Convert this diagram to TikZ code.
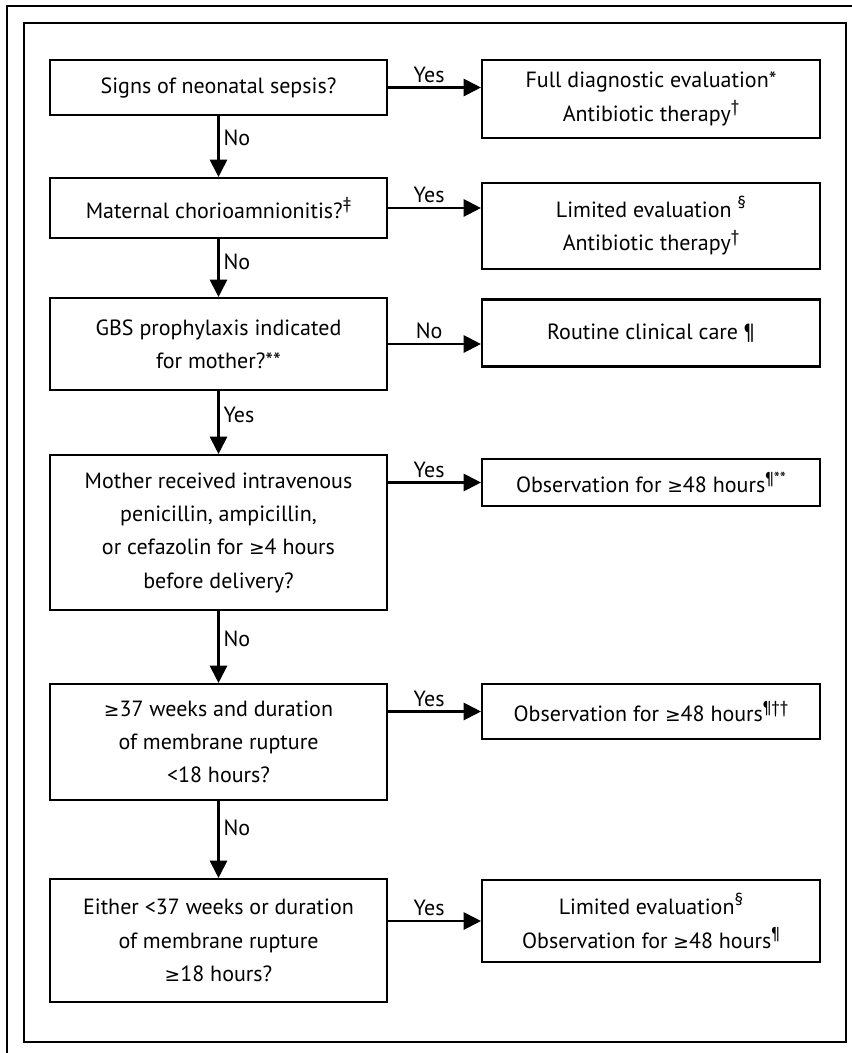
\documentclass[tikz,border=0pt]{standalone}
\usepackage{fontspec}
\setmainfont{PT Sans}
\newfontfamily\symfont{DejaVu Sans}
\usetikzlibrary{arrows.meta}

\newcommand{\atleast}{{\symfont\fontsize{14}{14}\selectfont ≥}}
\newcommand{\supmark}[1]{\raisebox{0.4em}{\fontsize{13}{13}\selectfont #1}}

\begin{document}
\begin{tikzpicture}[x=0.75pt, y=-0.75pt, >={Triangle[length=13pt,width=13pt]},
		qbox/.style={draw, line width=1.6pt, align=center, inner sep=0pt, minimum width=252.75pt},
		abox/.style={draw, line width=1.6pt, align=center, inner sep=0pt, minimum width=253.5pt},
		flow/.style={->, line width=1.6pt},
		lbl/.style={inner sep=3pt, font=\fontsize{16.5}{20}\selectfont}]
		\fontsize{16.5}{25}\selectfont
		\useasboundingbox (0,0) rectangle (852,1053);

		% 1. Frames
		\draw[line width=1.6pt] (7,1053) -- (7,6) -- (852,6);
		\draw[line width=1.6pt] (24,23) rectangle (846,1042);

		% 2. Question boxes (left column)
		\node[qbox, minimum height=41.25pt] (q1) at (218.5,87.5) {Signs of neonatal sepsis?};
		\node[qbox, minimum height=45pt] (q2) at (218.5,208) {Maternal chorioamnionitis?\supmark{‡}};
		\node[qbox, minimum height=69pt] (q3) at (218.5,344) {GBS prophylaxis indicated\\for mother?**};
		\node[qbox, minimum height=116.25pt] (q4) at (218.5,532.5) {Mother received intravenous\\penicillin, ampicillin,\\or cefazolin for \atleast4 hours\\before delivery?};
		\node[qbox, minimum height=87pt] (q5) at (218.5,742) {\atleast37 weeks and duration\\of membrane rupture\\<18 hours?};
		\node[qbox, minimum height=92.25pt] (q6) at (218.5,940.5) {Either <37 weeks or duration\\of membrane rupture\\\atleast18 hours?};

		% 3. Action boxes (right column)
		\node[abox, minimum height=58.5pt] (r1) at (651,99) {Full diagnostic evaluation*\\Antibiotic therapy\supmark{†}};
		\node[abox, minimum height=64.5pt] (r2) at (651,226) {Limited evaluation \supmark{§}\\Antibiotic therapy\supmark{†}};
		\node[abox, minimum height=50.25pt] (r3) at (651,333) {Routine clinical care ¶};
		\node[abox, minimum height=35.25pt] (r4) at (651,482.5) {Observation for \atleast48 hours\supmark{¶**}};
		\node[abox, minimum height=41.25pt] (r5) at (651,711.5) {Observation for \atleast48 hours\supmark{¶††}};
		\node[abox, minimum height=61.5pt] (r6) at (651,921) {Limited evaluation\supmark{§}\\Observation for \atleast48 hours\supmark{¶}};

		% 4. Downward arrows
		\draw[flow] (q1.south) -- (q2.north) node[lbl, right, pos=0.35] {No};
		\draw[flow] (q2.south) -- (q3.north) node[lbl, right, pos=0.4] {No};
		\draw[flow] (q3.south) -- (q4.north) node[lbl, right, pos=0.38] {Yes};
		\draw[flow] (q4.south) -- (q5.north) node[lbl, right, pos=0.38] {No};
		\draw[flow] (q5.south) -- (q6.north) node[lbl, right, pos=0.35] {No};

		% 5. Arrows to the right
		\draw[flow] (q1.east) -- (q1.east -| r1.west) node[lbl, above, midway, xshift=-4pt] {Yes};
		\draw[flow] (q2.east) -- (q2.east -| r2.west) node[lbl, above, midway, xshift=-4pt] {Yes};
		\draw[flow] (q3.east) -- (q3.east -| r3.west) node[lbl, above, midway, xshift=-4pt] {No};
		\draw[flow] (q4.east |- r4.west) -- (r4.west) node[lbl, above, midway, xshift=-4pt] {Yes};
		\draw[flow] (q5.east |- r5.west) -- (r5.west) node[lbl, above, midway, xshift=-4pt] {Yes};
		\draw[flow] (q6.east |- r6.west) -- (r6.west) node[lbl, above, midway, xshift=-4pt] {Yes};
\end{tikzpicture}
\end{document}
